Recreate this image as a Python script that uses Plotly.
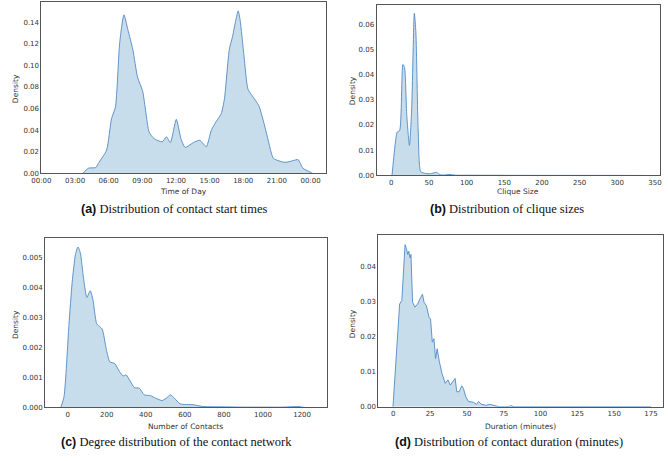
import plotly.graph_objects as go

W, H = 668, 461

# ---------------- data ----------------
# (a) contact start time (hours) vs density
start_hours = [3.68, 4.2, 4.85, 5.08, 5.81, 6.25, 6.6, 6.98, 7.36, 7.71, 8.15, 8.58, 9.02,
               9.31, 9.6, 10.04, 10.77, 11.15, 11.5, 12.03, 12.44, 12.82, 13.55, 14.13,
               14.36, 14.71, 15.15, 15.59, 16.03, 16.32, 16.76, 17.05, 17.34, 17.55, 17.72,
               18.07, 18.42, 18.8, 19.38, 19.82, 20.26, 20.7, 21.72, 22.45, 22.89, 23.33,
               24.06, 24.2]
start_density = [0.0, 0.0049, 0.0055, 0.0094, 0.0216, 0.0506, 0.0613, 0.1208, 0.1467, 0.133,
                 0.1147, 0.0888, 0.0765, 0.0567, 0.0384, 0.0323, 0.0293, 0.0339, 0.0286,
                 0.05, 0.0323, 0.0241, 0.0286, 0.0307, 0.0284, 0.0247, 0.0399, 0.0481,
                 0.0552, 0.0689, 0.1149, 0.1268, 0.142, 0.1503, 0.142, 0.1085, 0.078, 0.0719,
                 0.0628, 0.0476, 0.0293, 0.014, 0.0103, 0.0119, 0.0128, 0.0048, 0.0009, 0.0]
hour_ticks = [0, 3, 6, 9, 12, 15, 18, 21, 24]
hour_labels = ["00:00", "03:00", "06:00", "09:00", "12:00", "15:00", "18:00", "21:00", "00:00"]

# (b) clique size vs density
clique_size = [0.9, 4.4, 7.8, 11, 15.3, 17.5, 20.5, 24, 27, 30.5, 32.6, 35.7, 39.1, 45.6, 52,
               60, 65, 70, 78, 85, 100, 150, 200, 250, 300, 336]
clique_density = [0.0, 0.0106, 0.0172, 0.0178, 0.044, 0.0427, 0.0237, 0.0119, 0.0263, 0.0643,
                  0.0565, 0.0172, 0.0015, 0.0008, 0.0007, 0.0012, 0.0003, 0.0002, 0.0004,
                  0.0001, 0.0001, 0.00005, 0.00003, 0.00002, 0.00002, 0.0]

# (c) number of contacts vs density
contacts = [-35, -18.6, 6.5, 23, 40, 53, 65, 82, 98.5, 115.6, 129, 149, 166, 177, 199, 216,
            241, 266, 283, 300, 317, 342, 367, 392, 425, 450, 484, 509, 526, 546, 576, 643,
            694, 800, 900, 1000, 1100, 1170, 1185, 1200, 1215]
contacts_density = [0.0, 0.00036, 0.00273, 0.00415, 0.00509, 0.00534, 0.00514, 0.00426,
                    0.00366, 0.00388, 0.0036, 0.00278, 0.00268, 0.00261, 0.0019, 0.00152,
                    0.00146, 0.00119, 0.00105, 0.00108, 0.00091, 0.00066, 0.00064, 0.00042,
                    0.00039, 0.00031, 0.00023, 0.00033, 0.00042, 0.00031, 0.00012, 0.00009,
                    0.00003, 0.00002, 0.00001, 0.00001, 0.00001, 0.00003, 0.00003, 0.00001, 0.0]

# (d) contact duration (minutes) vs density
duration = [-0.2, 2, 4.3, 5.8, 6.9, 8, 9.1, 9.8, 10.5, 11.4, 12, 13.1, 14.7, 16.5, 18, 19.8,
            20.9, 22.5, 24.3, 25.3, 26.5, 27.6, 28.7, 29.8, 31.3, 33.1, 35.3, 37.1, 38.7,
            40.3, 42, 43.1, 44.7, 46.5, 47.6, 49.2, 51, 54.3, 56.5, 58, 59.8, 63.2, 65.4, 70,
            72, 78, 80, 82, 88, 91, 94, 97, 108, 112, 115, 140, 175]
duration_density = [0.0, 0.0157, 0.0294, 0.0304, 0.0384, 0.0464, 0.045, 0.0436, 0.0445,
                    0.0426, 0.0436, 0.0299, 0.0285, 0.0294, 0.0308, 0.0322, 0.0299, 0.0289,
                    0.0256, 0.0251, 0.0185, 0.0195, 0.0138, 0.0166, 0.0129, 0.0095, 0.0067,
                    0.0077, 0.0062, 0.0072, 0.0081, 0.0043, 0.0043, 0.006, 0.0053, 0.0029,
                    0.0015, 0.0013, 0.0007, 0.0015, 0.0007, 0.0004, 0.0007, 0.0002, 0.0,
                    0.0, 0.0003, 0.0, 0.0, 0.0002, 0.0001, 0.0, 0.0, 0.0002, 0.0, 0.0, 0.0]

captions = [("a", "Distribution of contact start times"),
            ("b", "Distribution of clique sizes"),
            ("c", "Degree distribution of the contact network"),
            ("d", "Distribution of contact duration (minutes)")]
xtitles = ["Time of Day", "Clique Size", "Number of Contacts", "Duration (minutes)"]

# ---------------- layout geometry (pixels) ----------------
boxes = {  # x0, x1, ytop, ybottom
    1: (32, 322, 2, 175),
    2: (373.3, 661.7, 5, 177),
    3: (35.7, 322.3, 240, 411),
    4: (375, 665, 237.3, 410.3),
}

LINE = "rgb(80,138,196)"
FILL = "rgba(31,119,180,0.25)"
FRAME = "#555555"
TXT = "#333333"
TICKFONT = dict(family="DejaVu Sans", size=7, color=TXT)

fig = go.Figure()

series = [
    (start_hours, start_density, "spline"),
    (clique_size, clique_density, "spline"),
    (contacts, contacts_density, "spline"),
    (duration, duration_density, "linear"),
]
for i, (xs, ys, shape) in enumerate(series, start=1):
    fig.add_trace(go.Scatter(
        x=xs, y=ys, mode="lines", fill="tozeroy", fillcolor=FILL,
        line=dict(color=LINE, width=0.9, shape=shape, smoothing=0.6),
        xaxis="x" if i == 1 else f"x{i}", yaxis="y" if i == 1 else f"y{i}",
        showlegend=False, hoverinfo="skip"))

axis_cfg = {
    1: dict(xr=[0, 25.4], yr=[0, 0.1586],
            xt=dict(tickvals=hour_ticks, ticktext=hour_labels),
            yt=dict(tickvals=[0, 0.02, 0.04, 0.06, 0.08, 0.10, 0.12, 0.14], tickformat=".2f")),
    2: dict(xr=[-19.6, 356.5], yr=[0, 0.0676],
            xt=dict(tickvals=[0, 50, 100, 150, 200, 250, 300, 350]),
            yt=dict(tickvals=[0, 0.01, 0.02, 0.03, 0.04, 0.05, 0.06], tickformat=".2f")),
    3: dict(xr=[-115.6, 1325], yr=[0, 0.00564],
            xt=dict(tickvals=[0, 200, 400, 600, 800, 1000, 1200]),
            yt=dict(tickvals=[0, 0.001, 0.002, 0.003, 0.004, 0.005], tickformat=".3f")),
    4: dict(xr=[-10.2, 183.2], yr=[0, 0.0491],
            xt=dict(tickvals=[0, 25, 50, 75, 100, 125, 150, 175]),
            yt=dict(tickvals=[0, 0.01, 0.02, 0.03, 0.04], tickformat=".2f")),
}

layout = dict(width=W, height=H, margin=dict(l=0, r=0, t=0, b=0),
              paper_bgcolor="white", plot_bgcolor="white",
              font=dict(family="DejaVu Sans", color=TXT))
for i, (x0, x1, yt, yb) in boxes.items():
    cfg = axis_cfg[i]
    xk = "xaxis" if i == 1 else f"xaxis{i}"
    yk = "yaxis" if i == 1 else f"yaxis{i}"
    ya = "y" if i == 1 else f"y{i}"
    xa = "x" if i == 1 else f"x{i}"
    layout[xk] = dict(domain=[x0 / W, x1 / W], range=cfg["xr"], anchor=ya,
                      showgrid=False, zeroline=False, showline=True, mirror=True,
                      linecolor=FRAME, linewidth=1, ticks="", tickfont=TICKFONT,
                      **cfg["xt"])
    layout[yk] = dict(domain=[1 - yb / H, 1 - yt / H], range=cfg["yr"], anchor=xa,
                      showgrid=False, zeroline=False, showline=True, mirror=True,
                      linecolor=FRAME, linewidth=1, ticks="", tickfont=TICKFONT,
                      **cfg["yt"])
fig.update_layout(**layout)

annotations = []
# x axis titles
xt_pos = [(177, 193), (517.5, 192.7), (179, 430), (520, 430)]
for (px, py), t in zip(xt_pos, xtitles):
    annotations.append(dict(text=t, x=px / W, y=1 - py / H, xref="paper", yref="paper",
                            xanchor="center", yanchor="middle", showarrow=False,
                            font=dict(family="DejaVu Sans", size=7.5, color=TXT)))
# y axis titles
yt_pos = [(5, 89), (348.3, 92), (5, 327), (348.3, 327)]
for px, py in yt_pos:
    annotations.append(dict(text="Density", x=px / W, y=1 - py / H, xref="paper", yref="paper",
                            xanchor="center", yanchor="middle", showarrow=False, textangle=-90,
                            font=dict(family="DejaVu Sans", size=7.5, color=TXT)))
# captions
cap_pos = [(168, 211), (506, 211), (170, 446), (508, 446)]
for (px, py), (lab, txt) in zip(cap_pos, captions):
    annotations.append(dict(
        text=f"<span style='font-family:Liberation Sans'><b>({lab})</b></span> {txt}",
        x=px / W, y=1 - py / H, xref="paper", yref="paper",
        xanchor="center", yanchor="middle", showarrow=False,
        font=dict(family="Liberation Serif", size=12.5, color="#111111")))
fig.update_layout(annotations=annotations)

fig.write_html("out.html")
